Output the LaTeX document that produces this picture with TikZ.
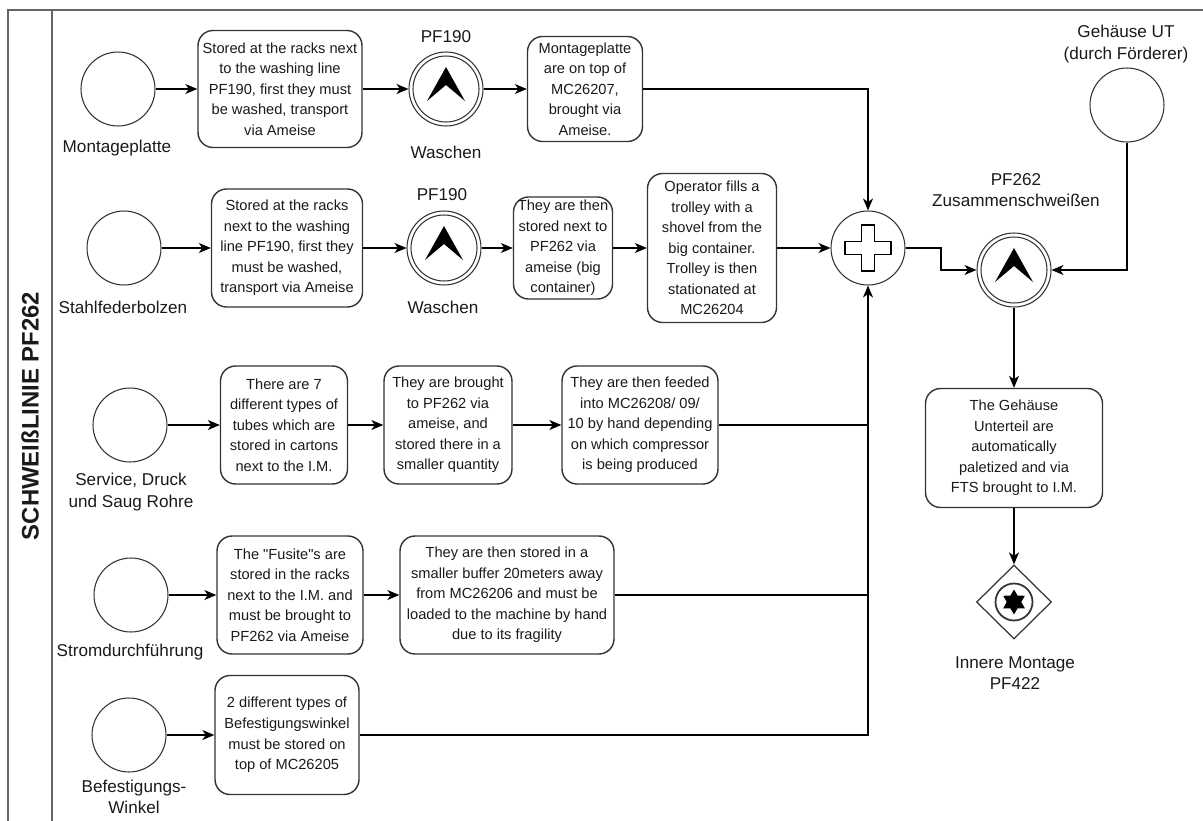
\documentclass[tikz,border=0pt]{standalone}
\usepackage{fontspec}
\setmainfont{Liberation Sans}
\usetikzlibrary{arrows.meta, calc, shapes.geometric}
\definecolor{ink}{HTML}{1A1A1A}
\definecolor{edge}{HTML}{333333}
\definecolor{lanegray}{HTML}{666666}

% BPMN markers
\newcommand\escmark[1]{%
  \fill[black, shift={(#1)}] (0,-22) -- (-19,12) -- (0,-4) -- (19,12) -- cycle;}
\newcommand\dblring[1]{%
  \draw[edge, line width=0.6pt] (#1) circle[radius=0.66cm];}

\begin{document}
\begin{tikzpicture}[x=0.02cm, y=-0.02cm,
  every node/.style={text=ink},
  task/.style={draw=edge, line width=0.8pt, rounded corners=0.3cm, align=center,
    inner sep=1pt, font=\fontsize{8.33pt}{11.7pt}\selectfont},
  startev/.style={circle, draw=edge, line width=0.6pt, minimum size=1.48cm, inner sep=0pt},
  lbl/.style={align=center, inner sep=1pt, font=\fontsize{9.75pt}{12.3pt}\selectfont},
  flow/.style={draw=black, line width=0.75pt, -{Stealth[length=2.4mm, width=2mm, inset=0.7mm]}},
  link/.style={draw=black, line width=0.75pt},
]
\useasboundingbox (0,0) rectangle (1203,821);

% pool frame and lane header
\draw[lanegray, line width=1.1pt] (1203,10) -- (8,10) -- (8,821);
\draw[lanegray, line width=1.1pt] (52,10) -- (52,821);
\node (title) [rotate=90, inner sep=0pt, font=\fontsize{13.6pt}{16pt}\selectfont\bfseries] at (30,416) {SCHWEIßLINIE PF262};

% ---------- row 1: Montageplatte ----------
\node (s1) [startev] at (118,89) {};
\node (s1l) [lbl] at (117,148) {Montageplatte};
\node (a1) [task, minimum width=3.28cm, minimum height=2.34cm] at (280,89)
  {Stored at the racks next\\to the washing line\\PF190, first they must\\be washed, transport\\via Ameise};
\node (w1) [startev] at (446,89) {};
\node (w1t) [lbl] at (446,37) {PF190};
\node (w1b) [lbl] at (446,152) {Waschen};
\node (a2) [task, minimum width=2.30cm, minimum height=2.10cm] at (585,89)
  {Montageplatte\\are on top of\\MC26207,\\brought via\\Ameise.};

% ---------- row 2: Stahlfederbolzen ----------
\node (s2) [startev] at (124,248) {};
\node (s2l) [lbl] at (123,307) {Stahlfederbolzen};
\node (b1) [task, minimum width=3.02cm, minimum height=2.36cm] at (287,248)
  {Stored at the racks\\next to the washing\\line PF190, first they\\must be washed,\\transport via Ameise};
\node (w2) [startev] at (444,248) {};
\node (w2t) [lbl] at (442,195) {PF190};
\node (w2b) [lbl] at (443,307) {Waschen};
\node (b2) [task, minimum width=1.98cm, minimum height=2.04cm] at (563,248)
  {They are then\\stored next to\\PF262 via\\ameise (big\\container)};
\node (b3) [task, minimum width=2.58cm, minimum height=2.98cm] at (712,248)
  {Operator fills a\\trolley with a\\shovel from the\\big container.\\Trolley is then\\stationated at\\MC26204};

% ---------- row 3: Service, Druck und Saug Rohre ----------
\node (s3) [startev] at (130,425) {};
\node (s3l) [lbl] at (131,492) {Service, Druck\\und Saug Rohre};
\node (c1) [task, minimum width=2.54cm, minimum height=2.36cm] at (284,425)
  {There are 7\\different types of\\tubes which are\\stored in cartons\\next to the I.M.};
\node (c2) [task, minimum width=2.56cm, minimum height=2.36cm] at (448,425)
  {They are brought\\to PF262 via\\ameise, and\\stored there in a\\smaller quantity};
\node (c3) [task, minimum width=3.12cm, minimum height=2.36cm] at (640,425)
  {They are then feeded\\into MC26208/ 09/\\10 by hand depending\\on which compressor\\is being produced};

% ---------- row 4: Stromdurchführung ----------
\node (s4) [startev] at (131,595) {};
\node (s4l) [lbl] at (130,652) {Stromdurchführung};
\node (d1) [task, minimum width=2.92cm, minimum height=2.36cm] at (290,595)
  {The \textquotedbl Fusite\textquotedbl s are\\stored in the racks\\next to the I.M. and\\must be brought to\\PF262 via Ameise};
\node (d2) [task, minimum width=4.28cm, minimum height=2.36cm] at (507,595)
  {They are then stored in a\\smaller buffer 20meters away\\from MC26206 and must be\\loaded to the machine by hand\\due to its fragility};

% ---------- row 5: Befestigungswinkel ----------
\node (s5) [startev] at (129,735) {};
\node (s5l) [lbl] at (134,797) {Befestigungs-\\Winkel};
\node (e1) [task, minimum width=2.88cm, minimum height=2.38cm] at (287,735)
  {2 different types of\\Befestigungswinkel\\must be stored on\\top of MC26205};

% ---------- parallel gateway ----------
\node (gw) [startev] at (868,248) {};
\draw[black, line width=0.9pt, fill=white, shift={(gw.center)}]
  (-6.5,-23) -- (6.5,-23) -- (6.5,-6.5) -- (23,-6.5) -- (23,6.5) -- (6.5,6.5)
  -- (6.5,23) -- (-6.5,23) -- (-6.5,6.5) -- (-23,6.5) -- (-23,-6.5) -- (-6.5,-6.5) -- cycle;

% ---------- welding and housing supply ----------
\node (ut) [startev] at (1127,105) {};
\node (utl) [lbl] at (1126,44) {Gehäuse UT\\(durch Förderer)};
\node (weld) [startev] at (1014,270) {};
\node (weldl) [lbl] at (1016,190) {PF262\\Zusammenschweißen};
\node (f) [task, minimum width=3.54cm, minimum height=2.38cm] at (1014,448)
  {The Gehäuse\\Unterteil are\\automatically\\paletized and via\\FTS brought to I.M.};
\node (endev) [diamond, draw=edge, line width=0.7pt, minimum width=1.5cm, minimum height=1.48cm, inner sep=0pt] at (1014,602) {};
\node (endl) [lbl] at (1015,673) {Innere Montage\\PF422};

% event decorations
\dblring{w1} \escmark{w1}
\dblring{w2} \escmark{w2}
\dblring{weld} \escmark{weld}
\draw[edge, line width=1pt] (endev.center) circle[radius=0.37cm];
\fill[black, shift={(endev.center)}] (90:0.25cm)
  \foreach \a in {120,180,240,300,360,420} { -- (\a:0.145cm) -- (\a+30:0.25cm) } -- cycle;

% ---------- sequence flows ----------
\draw[flow] (s1) -- (a1);
\draw[flow] (a1) -- (w1);
\draw[flow] (w1) -- (a2);
\draw[flow] (a2.east) -| (gw.north);

\draw[flow] (s2) -- (b1);
\draw[flow] (b1) -- (w2);
\draw[flow] (w2) -- (b2);
\draw[flow] (b2) -- (b3);
\draw[flow] (b3) -- (gw);

\draw[flow] (s3) -- (c1);
\draw[flow] (c1) -- (c2);
\draw[flow] (c2) -- (c3);
\draw[link] (c3.east) -- (c3.east -| gw.south);

\draw[flow] (s4) -- (d1);
\draw[flow] (d1) -- (d2);
\draw[link] (d2.east) -- (d2.east -| gw.south);

\draw[flow] (s5) -- (e1);
\draw[flow] (e1.east) -| (gw.south);

\draw[flow] (gw.east) -| ($(gw.east)!0.5!(weld.west)$) |- (weld.west);
\draw[flow] (ut.south) |- (weld.east);
\draw[flow] (weld) -- (f);
\draw[flow] (f) -- (endev);

\end{tikzpicture}
\end{document}
